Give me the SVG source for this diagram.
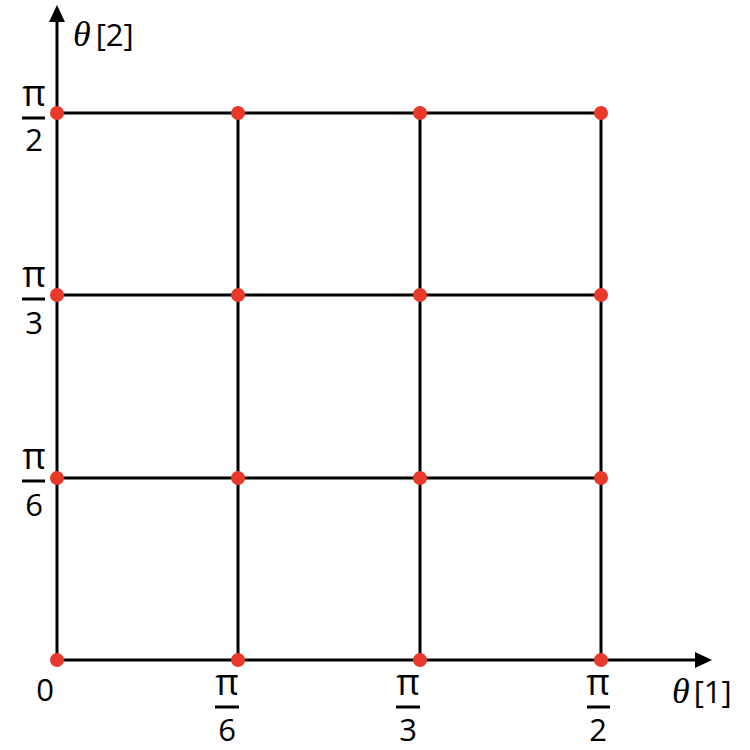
<svg xmlns="http://www.w3.org/2000/svg" width="750" height="750" viewBox="0 0 750 750">
<style>
.ln{stroke:#000;stroke-width:3;fill:none}
.dot{fill:#E8392A}
.t{font-family:"Open Sans","Noto Sans",sans-serif;font-size:31px;fill:#000}
.th{font-family:"Liberation Serif",serif;font-style:italic;font-size:36px}
.pi{font-size:36px}
.bar{stroke:#000;stroke-width:3}
</style>
<rect width="750" height="750" fill="#fff"/>
<g id="connectors">
<line class="ln" x1="57" y1="660" x2="57" y2="20"/>
<polygon points="57,5 49,22 65,22" fill="#000"/>
<line class="ln" x1="57" y1="660" x2="697" y2="660"/>
<polygon points="712,660 695,652 695,668" fill="#000"/>
<line class="ln" x1="57" y1="113" x2="601" y2="113"/>
<line class="ln" x1="57" y1="295" x2="601" y2="295"/>
<line class="ln" x1="57" y1="478" x2="601" y2="478"/>
<line class="ln" x1="238" y1="113" x2="238" y2="660"/>
<line class="ln" x1="420" y1="113" x2="420" y2="660"/>
<line class="ln" x1="601" y1="113" x2="601" y2="660"/>
</g>
<g id="nodes">
<circle class="dot" cx="57" cy="113" r="7"/><circle class="dot" cx="238" cy="113" r="7"/><circle class="dot" cx="420" cy="113" r="7"/><circle class="dot" cx="601" cy="113" r="7"/>
<circle class="dot" cx="57" cy="295" r="7"/><circle class="dot" cx="238" cy="295" r="7"/><circle class="dot" cx="420" cy="295" r="7"/><circle class="dot" cx="601" cy="295" r="7"/>
<circle class="dot" cx="57" cy="478" r="7"/><circle class="dot" cx="238" cy="478" r="7"/><circle class="dot" cx="420" cy="478" r="7"/><circle class="dot" cx="601" cy="478" r="7"/>
<circle class="dot" cx="57" cy="660" r="7"/><circle class="dot" cx="238" cy="660" r="7"/><circle class="dot" cx="420" cy="660" r="7"/><circle class="dot" cx="601" cy="660" r="7"/>
</g>
<g id="y-labels" class="t" text-anchor="middle">
<text class="pi" x="34" y="106">π</text><line class="bar" x1="22" y1="118" x2="45" y2="118"/><text x="34" y="151">2</text>
<text class="pi" x="34" y="287">π</text><line class="bar" x1="22" y1="299" x2="45" y2="299"/><text x="34" y="334">3</text>
<text class="pi" x="34" y="469">π</text><line class="bar" x1="22" y1="481" x2="45" y2="481"/><text x="34" y="516">6</text>
</g>
<g id="x-labels" class="t" text-anchor="middle">
<text x="45" y="701">0</text>
<text class="pi" x="227" y="695">π</text><line class="bar" x1="215" y1="707" x2="239" y2="707"/><text x="227" y="741">6</text>
<text class="pi" x="408" y="695">π</text><line class="bar" x1="396" y1="707" x2="420" y2="707"/><text x="408" y="741">3</text>
<text class="pi" x="598" y="695">π</text><line class="bar" x1="587" y1="707" x2="610" y2="707"/><text x="598" y="741">2</text>
</g>
<g id="axis-titles" class="t">
<text x="73" y="46"><tspan class="th">θ</tspan><tspan dx="5">[2]</tspan></text>
<text x="672" y="703"><tspan class="th">θ</tspan><tspan dx="4">[1]</tspan></text>
</g>
</svg>
